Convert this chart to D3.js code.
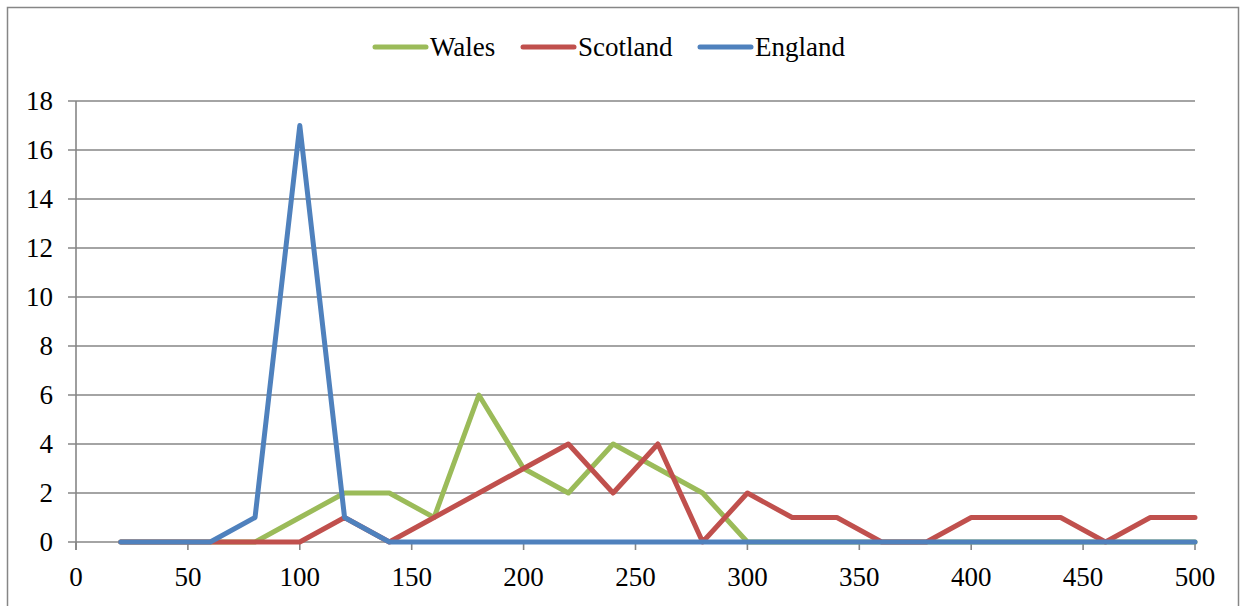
<!DOCTYPE html>
<html>
<head>
<meta charset="utf-8">
<script src="https://cdn.jsdelivr.net/npm/d3@7"></script>
<style>
  html, body { margin: 0; padding: 0; background: #fff; }
  svg { display: block; }
  text { font-family: "Liberation Serif", "Times New Roman", serif; font-size: 27px; fill: #000; }
</style>
</head>
<body>
<svg id="chart" width="1244" height="606"></svg>
<script>
// Distance bins (x) and counts per country
const distances = [20, 40, 60, 80, 100, 120, 140, 160, 180, 200, 220, 240, 260, 280, 300,
                   320, 340, 360, 380, 400, 420, 440, 460, 480, 500];
const wales    = [0, 0, 0, 0, 1, 2, 2, 1, 6, 3, 2, 4, 3, 2, 0,
                  0, 0, 0, 0, 0, 0, 0, 0, 0, 0];
const scotland = [0, 0, 0, 0, 0, 1, 0, 1, 2, 3, 4, 2, 4, 0, 2,
                  1, 1, 0, 0, 1, 1, 1, 0, 1, 1];
const england  = [0, 0, 0, 1, 17, 1, 0, 0, 0, 0, 0, 0, 0, 0, 0,
                  0, 0, 0, 0, 0, 0, 0, 0, 0, 0];
const xTicks = [0, 50, 100, 150, 200, 250, 300, 350, 400, 450, 500];
const yTicks = [0, 2, 4, 6, 8, 10, 12, 14, 16, 18];

const seriesNames  = ["Wales", "Scotland", "England"];
const seriesColors = ["#9BBB59", "#C0504D", "#4F81BD"];
const seriesValues = [wales, scotland, england];

const svg = d3.select("#chart");
const gridColor = "#868686";

// Outer chart frame
svg.append("rect")
  .attr("x", 7.5).attr("y", 7.5)
  .attr("width", 1231).attr("height", 620)
  .attr("fill", "none").attr("stroke", gridColor).attr("stroke-width", 1.5);

const x = d3.scaleLinear().domain([0, 500]).range([76, 1195]);
const y = d3.scaleLinear().domain([0, 18]).range([542, 101]);

// Horizontal gridlines (extend left as tick marks)
svg.append("g").selectAll("line").data(yTicks).join("line")
  .attr("x1", 68).attr("x2", x(500))
  .attr("y1", d => y(d)).attr("y2", d => y(d))
  .attr("stroke", gridColor).attr("stroke-width", 1.6);

// Vertical axis line
svg.append("line")
  .attr("x1", x(0)).attr("x2", x(0))
  .attr("y1", y(18)).attr("y2", y(0) + 8)
  .attr("stroke", gridColor).attr("stroke-width", 1.6);

// X axis ticks
svg.append("g").selectAll("line").data(xTicks).join("line")
  .attr("x1", d => x(d)).attr("x2", d => x(d))
  .attr("y1", y(0)).attr("y2", y(0) + 8)
  .attr("stroke", gridColor).attr("stroke-width", 1.6);

// Y tick labels
svg.append("g").selectAll("text").data(yTicks).join("text")
  .attr("x", 53).attr("y", d => y(d))
  .attr("dy", "0.35em")
  .attr("text-anchor", "end")
  .text(d => d);

// X tick labels
svg.append("g").selectAll("text").data(xTicks).join("text")
  .attr("x", d => x(d)).attr("y", 586)
  .attr("text-anchor", "middle")
  .text(d => d);

// Series lines
const line = d3.line()
  .x((d, i) => x(distances[i]))
  .y(d => y(d));

svg.append("g").selectAll("path").data(seriesValues).join("path")
  .attr("d", d => line(d))
  .attr("fill", "none")
  .attr("stroke", (d, i) => seriesColors[i])
  .attr("stroke-width", 5)
  .attr("stroke-linejoin", "round")
  .attr("stroke-linecap", "round");

// Legend
const legendX = [375, 523, 700];
const legend = svg.append("g").selectAll("g").data(seriesNames).join("g")
  .attr("transform", (d, i) => `translate(${legendX[i]},47)`);
legend.append("line")
  .attr("x1", 0).attr("x2", 51).attr("y1", 0).attr("y2", 0)
  .attr("stroke", (d, i) => seriesColors[i])
  .attr("stroke-width", 5).attr("stroke-linecap", "round");
legend.append("text")
  .attr("x", 55).attr("y", 0).attr("dy", "0.35em")
  .text(d => d);
</script>
</body>
</html>
